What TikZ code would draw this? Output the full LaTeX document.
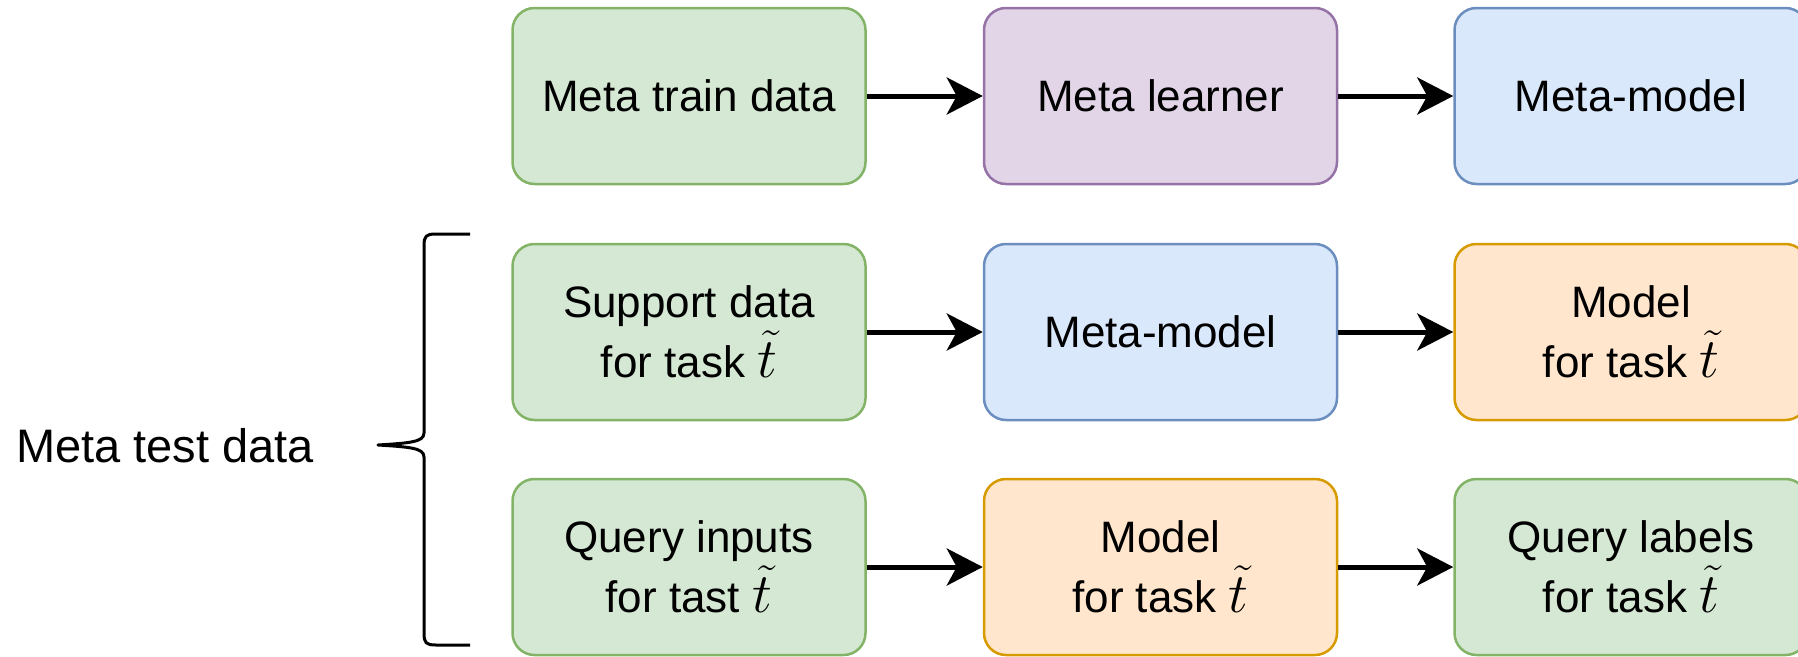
\RequirePackage{fix-cm}
\documentclass[tikz,border=0pt]{standalone}
\usepackage{fontspec}
\setmainfont{Liberation Sans}
\usetikzlibrary{arrows.meta}
\definecolor{gfill}{HTML}{D5E8D4}
\definecolor{gline}{HTML}{82B366}
\definecolor{pfill}{HTML}{E1D5E7}
\definecolor{pline}{HTML}{9673A6}
\definecolor{bfill}{HTML}{DAE8FC}
\definecolor{bline}{HTML}{6C8EBF}
\definecolor{ofill}{HTML}{FFE6CC}
\definecolor{oline}{HTML}{D79B00}
\newcommand{\tildet}{{\fontsize{56}{60}\selectfont$\tilde{t}$}}
\begin{document}
\begin{tikzpicture}[x=1pt,y=-1pt,
  box/.style={rectangle, rounded corners=22pt, minimum width=353pt, minimum height=176pt,
    line width=2.5pt, align=center, inner sep=0pt, font=\fontsize{44}{60}\selectfont},
  gbox/.style={box, fill=gfill, draw=gline},
  pbox/.style={box, fill=pfill, draw=pline},
  bbox/.style={box, fill=bfill, draw=bline},
  obox/.style={box, fill=ofill, draw=oline},
  arr/.style={line width=5pt, -{Stealth[length=36pt,width=37pt,inset=10pt]}},
  bracestyle/.style={line width=3pt, line join=round}]
\useasboundingbox (0,0) rectangle (1798,656);
\clip (0,0) rectangle (1798,656);
\node[gbox] (a1) at (689,96) {Meta train data};
\node[pbox] (a2) at (1160.5,96) {Meta learner};
\node[bbox] (a3) at (1631,96) {Meta-model};
\node[gbox] (b1) at (689,332) {Support data\\for task \tildet};
\node[bbox] (b2) at (1160.5,332) {Meta-model};
\node[obox] (b3) at (1631,332) {Model\\for task \tildet};
\node[gbox] (c1) at (689,567) {Query inputs\\for tast \tildet};
\node[obox] (c2) at (1160.5,567) {Model\\for task \tildet};
\node[gbox] (c3) at (1631,567) {Query labels\\for task \tildet};
\draw[arr] (a1) -- (a2);
\draw[arr] (a2) -- (a3);
\draw[arr] (b1) -- (b2);
\draw[arr] (b2) -- (b3);
\draw[arr] (c1) -- (c2);
\draw[arr] (c2) -- (c3);
\draw[bracestyle] (470,234) -- (436,234) .. controls (426,234) and (424,236) .. (424,246)
  -- (424,433) .. controls (424,442) and (410,443) .. (378,445)
  .. controls (410,447) and (424,448) .. (424,457)
  -- (424,633) .. controls (424,643) and (426,645) .. (436,645) -- (470,645);
\node[anchor=west, inner sep=0pt, font=\fontsize{47}{60}\selectfont] (lbl) at (16,446) {Meta test data};
\end{tikzpicture}
\end{document}
